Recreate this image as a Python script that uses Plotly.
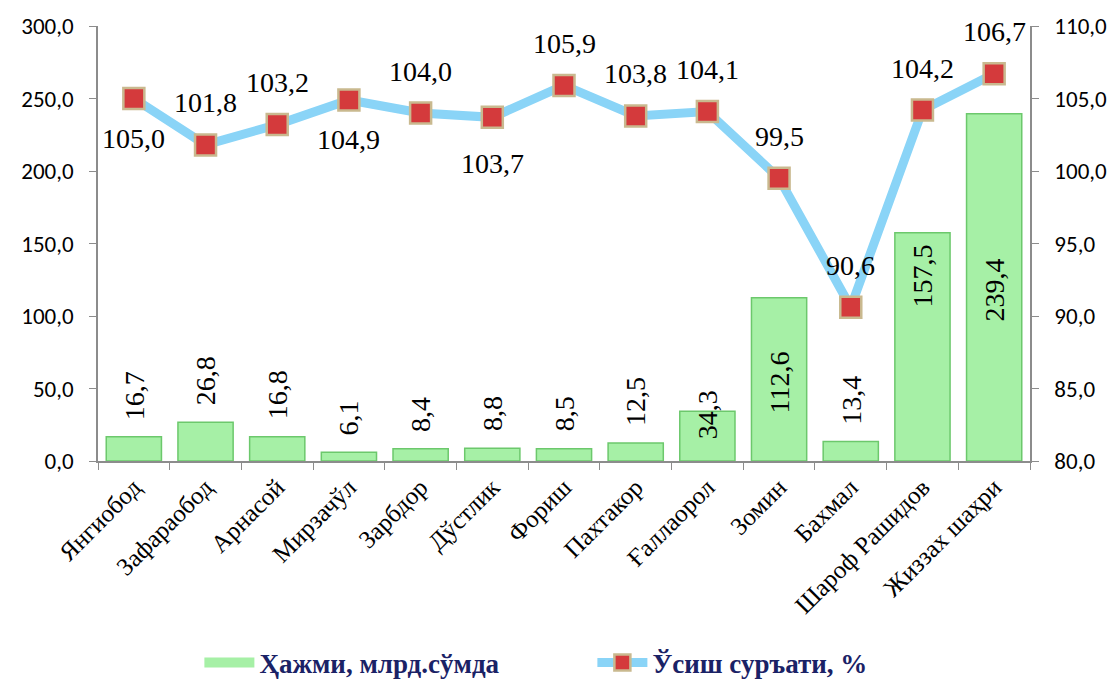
import plotly.graph_objects as go

# data
districts = ["Янгиобод", "Зафараобод", "Арнасой", "Мирзачўл", "Зарбдор", "Дўстлик",
             "Фориш", "Пахтакор", "Ғаллаорол", "Зомин", "Бахмал", "Шароф Рашидов", "Жиззах шаҳри"]
volume = [16.7, 26.8, 16.8, 6.1, 8.4, 8.8, 8.5, 12.5, 34.3, 112.6, 13.4, 157.5, 239.4]
growth = [105.0, 101.8, 103.2, 104.9, 104.0, 103.7, 105.9, 103.8, 104.1, 99.5, 90.6, 104.2, 106.7]
growth_label_below = [True, False, False, True, False, True, False, False, False, False, False, False, False]

SERIF = "Liberation Serif, Times New Roman, serif"
SANS = "Carlito, Lato, sans-serif"
BAR_GREEN = "#A6F0A6"

def fmt(v):
    return f"{v:.1f}".replace(".", ",")

fig = go.Figure()

fig.add_trace(go.Bar(
    x=districts, y=volume, name="Ҳажми, млрд.сўмда", showlegend=False,
    marker=dict(color=BAR_GREEN, line=dict(color="#6CC86C", width=1.5)),
))
# legend entry for the bars (wider swatch like the original)
fig.add_trace(go.Scatter(
    x=[None], y=[None], name="Ҳажми, млрд.сўмда", mode="lines",
    line=dict(color=BAR_GREEN, width=15),
))

fig.add_trace(go.Scatter(
    x=districts, y=growth, name="Ўсиш суръати, %", yaxis="y2",
    mode="lines+markers",
    line=dict(color="#8AD4F7", width=9),
    marker=dict(symbol="square", size=21, color="#D43A3C", line=dict(color="#C9B98F", width=2.5)),
    cliponaxis=False,
))

label_font = dict(family=SERIF, size=28, color="black")
annotations = []
# bar value labels (rotated)
for d, v in zip(districts, volume):
    if v < 30:
        a = dict(y=v, yanchor="bottom", yshift=15)
    elif v < 100:
        a = dict(y=v, yanchor="bottom", yshift=-30)
    elif v == 157.5:
        a = dict(y=v, yanchor="top", yshift=-10)
    else:
        a = dict(y=v / 2, yanchor="middle", yshift=-3)
    annotations.append(dict(x=d, xref="x", yref="y", text=fmt(v), textangle=-90,
                            showarrow=False, font=label_font, **a))
# growth labels
for d, g, below in zip(districts, growth, growth_label_below):
    annotations.append(dict(
        x=d, y=g, xref="x", yref="y2", text=fmt(g), showarrow=False,
        yshift=(-46 if g < 103.8 else -40) if below else 42,
        font=label_font))

axis_line = dict(showline=True, linecolor="#8C8C8C", linewidth=1.5, ticks="outside",
                 ticklen=7, tickcolor="#8C8C8C", automargin=False)
num_axis = dict(showgrid=False, zeroline=False, tickformat=".1f", ticklabelstandoff=11,
                tickfont=dict(family=SANS, size=23, color="black"))

# page body adds an 8px offset, so the figure is 8px smaller than the window
fig.update_layout(
    width=1111, height=673,
    margin=dict(l=90, r=89, t=18, b=220),
    plot_bgcolor="white", paper_bgcolor="white",
    separators=", ",
    bargap=0.23,
    showlegend=True,
    legend=dict(orientation="h", xref="container", yref="container",
                x=0.526, xanchor="center", y=0.027, yanchor="middle",
                font=dict(family=SERIF, size=27, color="#1A2266", weight="bold"),
                itemwidth=50, entrywidth=328),
    xaxis=dict(**axis_line, range=[-0.5, len(districts) - 0.5], tickson="boundaries",
               tickangle=-45, tickfont=dict(family=SERIF, size=25, color="black")),
    yaxis=dict(**axis_line, **num_axis, range=[0, 300], dtick=50),
    yaxis2=dict(**axis_line, **num_axis, range=[80, 110], dtick=5, overlaying="y", side="right"),
    annotations=annotations,
)

fig.write_html("out.html")
